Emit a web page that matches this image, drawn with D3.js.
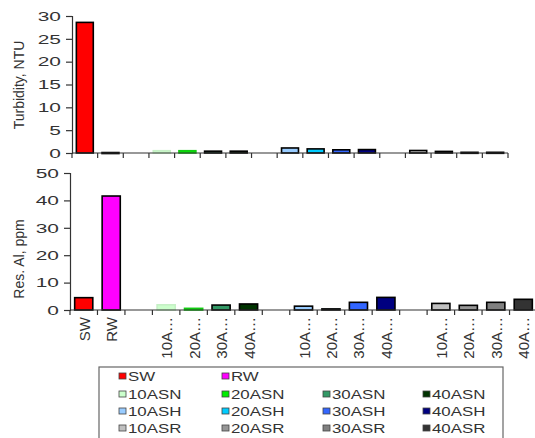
<!DOCTYPE html>
<html>
<head>
<meta charset="utf-8">
<script src="https://cdnjs.cloudflare.com/ajax/libs/d3/7.8.5/d3.min.js"></script>
<style>
body { margin: 0; background: #fff; }
svg { font-family: Arial, "Liberation Sans", sans-serif; }
</style>
</head>
<body>
<div id="container"></div>
<script>
let w = 535;
let h = 438;

// data
const categories = ["SW", "RW", "", "10ASN", "20ASN", "30ASN", "40ASN", " ", "10ASH", "20ASH", "30ASH", "40ASH", "  ", "10ASR", "20ASR", "30ASR", "40ASR"];
const tickLabels = ["SW", "RW", "", "10A…", "20A…", "30A…", "40A…", "", "10A…", "20A…", "30A…", "40A…", "", "10A…", "20A…", "30A…", "40A…"];
const turbidity = [28.6, 0.1, null, 0.5, 0.5, 0.4, 0.4, null, 1.1, 0.9, 0.7, 0.75, null, 0.55, 0.35, 0.15, 0.15];
const resAl = [4.5, 41.6, null, 1.9, 0.6, 1.8, 2.2, null, 1.4, 0.4, 2.8, 4.6, null, 2.4, 1.7, 2.8, 3.9];
const colors = ["#ff0000", "#ff00ff", null, "#ccffcc", "#00ee00", "#339966", "#003300", null, "#99ccff", "#00ccff", "#3366ff", "#000080", null, "#c0c0c0", "#969696", "#808080", "#333333"];
const legendRows = [["SW", "RW"], ["10ASN", "20ASN", "30ASN", "40ASN"], ["10ASH", "20ASH", "30ASH", "40ASH"], ["10ASR", "20ASR", "30ASR", "40ASR"]];

// the picture is stretched sideways, so horizontal text is too
const sx = 1.55;

let viz = d3.select("#container").append("svg")
    .attr("width", w)
    .attr("height", h);

function panel(vals, x0, x1, yTop, yBot, maxV, step, title, titleY, showLabels) {
  let x = d3.scaleBand().domain(d3.range(categories.length)).range([x0, x1]).paddingInner(0.34).paddingOuter(0.17);
  let y = d3.scaleLinear().domain([0, maxV]).range([yBot, yTop]);
  let g = viz.append("g");

  // y axis
  let ya = g.append("g").attr("transform", "translate(" + x0 + ",0)")
    .call(d3.axisLeft(y).tickValues(d3.range(0, maxV + 1, step)).tickSize(6).tickPadding(4));
  ya.select(".domain").attr("stroke", "#333").attr("stroke-width", 1.2);
  ya.selectAll(".tick line").attr("stroke", "#333").attr("stroke-width", 1.2);
  ya.selectAll("text")
    .attr("font-size", 13.5)
    .attr("fill", "#333")
    .attr("font-family", "Arial, Liberation Sans")
    .attr("x", -11 / sx)
    .attr("transform", "scale(" + sx + ",1)");

  g.append("text")
    .text(title)
    .attr("transform", "translate(24," + titleY + ") rotate(-90)")
    .attr("text-anchor", "middle")
    .attr("font-size", 14)
    .attr("fill", "#333");

  // bars
  let idx = d3.range(categories.length).filter(i => vals[i] != null);
  g.selectAll("rect.bar").data(idx).enter().append("rect")
    .attr("class", "bar")
    .attr("x", i => x(i))
    .attr("width", x.bandwidth())
    .attr("y", i => y(vals[i]))
    .attr("height", i => Math.max(yBot - y(vals[i]), 1))
    .attr("fill", i => colors[i])
    .attr("stroke", i => i == 3 ? "#c6f0c6" : i == 4 ? "#11cc11" : "#000")
    .attr("stroke-width", 1.6);

  // x axis line and ticks between slots
  g.append("line").attr("x1", x0).attr("x2", x1).attr("y1", yBot).attr("y2", yBot)
    .attr("stroke", "#333").attr("stroke-width", 1.2);
  g.selectAll("line.xt").data(d3.range(categories.length + 1)).enter().append("line")
    .attr("class", "xt")
    .attr("x1", i => x0 + i * x.step()).attr("x2", i => x0 + i * x.step())
    .attr("y1", yBot).attr("y2", yBot + 5)
    .attr("stroke", "#333").attr("stroke-width", 1.2);

  if (showLabels) {
    g.selectAll("text.xl").data(d3.range(categories.length)).enter().append("text")
      .attr("class", "xl")
      .text(i => tickLabels[i])
      .attr("transform", i => "translate(" + (x(i) + x.bandwidth() / 2 + 6) + "," + (yBot + 7) + ") rotate(-90)")
      .attr("text-anchor", "end")
      .attr("font-size", 15)
      .attr("fill", "#333");
  }
}

panel(turbidity, 72, 508, 16, 153, 30, 5, "Turbidity, NTU", 85, false);
panel(resAl, 70, 537, 173, 310, 50, 10, "Res. Al, ppm", 259, true);

// legend
let leg = viz.append("g");
leg.append("rect")
  .attr("x", 99).attr("y", 367).attr("width", 404).attr("height", 80)
  .attr("fill", "none").attr("stroke", "#666").attr("stroke-width", 1.2);
const colX = [119, 222, 323, 423];
const rowY = [376, 394, 411, 428];
legendRows.forEach((row, r) => {
  row.forEach((name, c) => {
    let i = categories.indexOf(name);
    leg.append("rect")
      .attr("x", colX[c]).attr("y", rowY[r] - 3).attr("width", 7).attr("height", 6)
      .attr("fill", colors[i]).attr("stroke", "#444").attr("stroke-width", 0.8);
    leg.append("text")
      .text(name)
      .attr("transform", "translate(" + (colX[c] + 9) + "," + (rowY[r] + 5) + ") scale(1.35,1)")
      .attr("font-size", 12.5)
      .attr("fill", "#333");
  });
});
</script>
</body>
</html>
